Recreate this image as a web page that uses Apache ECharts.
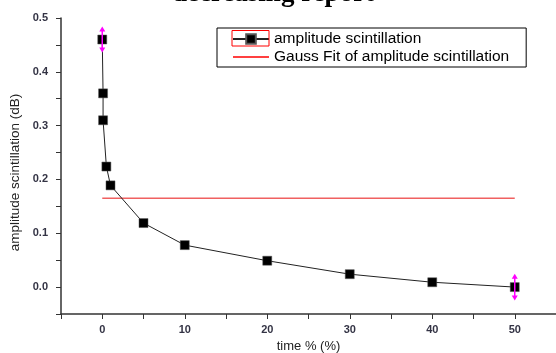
<!DOCTYPE html>
<html><head><meta charset="utf-8">
<script src="https://cdn.jsdelivr.net/npm/echarts@6/dist/echarts.min.js"></script>
<style>html,body{margin:0;padding:0;background:#fff}#c{width:556px;height:353px}</style>
</head><body><div id="c"></div>
<script>
var timePct = [0, 0.1, 0.1, 0.5, 1, 5, 10, 20, 30, 40, 50];
var amplitude = [0.46, 0.36, 0.31, 0.224, 0.189, 0.119, 0.078, 0.049, 0.024, 0.009, 0.0];
var fitX = [0, 50];
var fitY = [0.165, 0.165];
var errX = [0, 50];
var errY = [0.46, 0.0];
var errAmt = [0.024, 0.025];
var titleText = 'decreasing report';
var xName = 'time % (%)';
var yName = 'amplitude scintillation (dB)';
var s1Name = 'amplitude scintillation';
var s2Name = 'Gauss Fit of amplitude scintillation';

var chart = echarts.init(document.getElementById('c'));
var tickFont = {color:'#333344', fontSize:11, fontWeight:'bold', fontFamily:'Liberation Sans'};
chart.setOption({
  animation:false,
  title:{text:titleText, left:268, textAlign:'center', top:-24,
    textStyle:{fontFamily:'Liberation Serif', fontWeight:'bold', fontSize:27, color:'#000'}},
  grid:{left:61, right:0, top:18, bottom:39, outerBoundsMode:'none', containLabel:false},
  legend:{
    orient:'vertical', left:217, top:28,
    borderColor:'#000', borderWidth:1, padding:[3,17,2,15],
    itemWidth:36, itemHeight:12, itemGap:2,
    textStyle:{fontFamily:'Liberation Sans', fontSize:15.5, lineHeight:14, color:'#000'},
    data:[{name:s1Name}, {name:s2Name, itemStyle:{color:'rgba(0,0,0,0)', borderWidth:0}, lineStyle:{color:'#ff0000', width:1.5}}]
  },
  xAxis:{type:'value', min:-5, max:55, interval:5,
    name:xName, nameLocation:'middle', nameGap:25,
    nameTextStyle:{fontFamily:'Liberation Sans', fontSize:13, color:'#222'},
    axisLine:{onZero:false, lineStyle:{color:'#333', width:1.5}},
    axisTick:{length:5, lineStyle:{color:'#333'}},
    splitLine:{show:false},
    axisLabel:Object.assign({margin:10, formatter:function(v){return (v>=0 && v%10===0)? String(v):'';}}, tickFont)
  },
  yAxis:{type:'value', min:-0.05, max:0.5, interval:0.05,
    name:yName, nameLocation:'middle', nameGap:37, nameRotate:90,
    nameTextStyle:{fontFamily:'Liberation Sans', fontSize:13.5, color:'#222', padding:[0,13,0,0]},
    axisLine:{show:true, onZero:false, lineStyle:{color:'#333', width:1.5}},
    axisTick:{show:true, length:5, lineStyle:{color:'#333'}},
    splitLine:{show:false},
    axisLabel:Object.assign({margin:13, formatter:function(v){var t=v*10; return (v>=-1e-9 && Math.abs(t-Math.round(t))<1e-6)? (Math.round(t)/10).toFixed(1):'';}}, tickFont)
  },
  series:[
    {name:s2Name, type:'line', data:fitX.map(function(x,i){return [x,fitY[i]];}),
      symbol:'none', lineStyle:{color:'#f06060', width:1.5}, itemStyle:{color:'#f00'}, z:2},
    {name:s1Name, type:'line', data:timePct.map(function(x,i){return [x,amplitude[i]];}),
      symbol:'rect', symbolSize:9, showSymbol:true,
      lineStyle:{color:'#222', width:1}, itemStyle:{color:'#000', borderColor:'#555', borderWidth:0.5}, z:3},
    {type:'custom', data:errX.map(function(x,i){return [x,errY[i],errAmt[i]];}), z:4,
      renderItem:function(params, api){
        var x=api.value(0), y=api.value(1), e=api.value(2);
        var top=api.coord([x,y+e]), bot=api.coord([x,y-e]);
        var c='#ff00ff';
        return {type:'group', children:[
          {type:'line', shape:{x1:top[0],y1:top[1]+3,x2:bot[0],y2:bot[1]-3}, style:{stroke:c, lineWidth:1.5}},
          {type:'polygon', shape:{points:[[top[0],top[1]],[top[0]-3,top[1]+5],[top[0]+3,top[1]+5]]}, style:{fill:c}},
          {type:'polygon', shape:{points:[[bot[0],bot[1]],[bot[0]-3,bot[1]-5],[bot[0]+3,bot[1]-5]]}, style:{fill:c}}
        ]};
      }}
  ],
  graphic:[{type:'rect', shape:{x:232, y:30.5, width:37, height:15.5}, style:{fill:'none', stroke:'#f00', lineWidth:1}, z:100}]
});
</script></body></html>
